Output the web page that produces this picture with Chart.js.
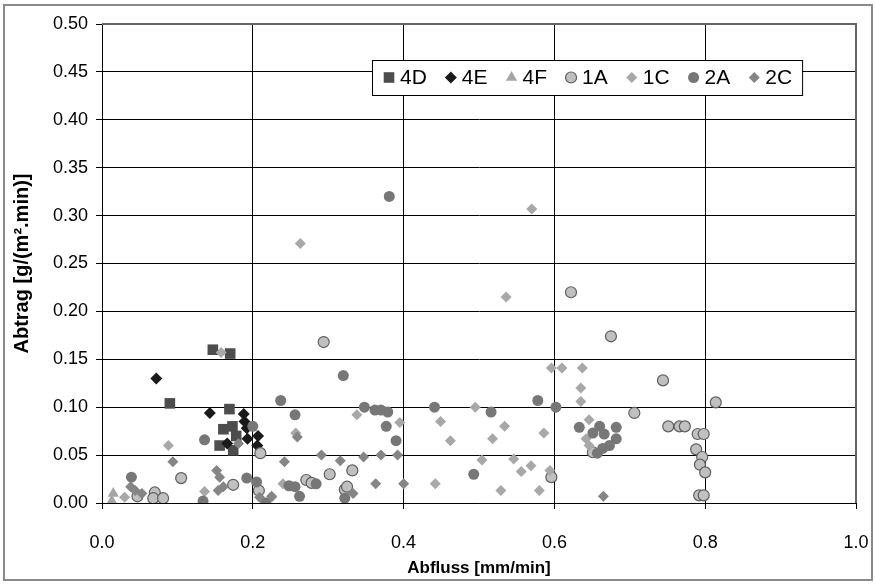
<!DOCTYPE html>
<html>
<head>
<meta charset="utf-8">
<script src="https://cdn.jsdelivr.net/npm/chart.js@4.4.1/dist/chart.umd.min.js"></script>
<style>
  html, body { margin: 0; padding: 0; background: #fff; }
  #wrap { width: 875px; height: 584px; }
</style>
</head>
<body>
<div id="wrap"><canvas id="abtrag" width="875" height="584"></canvas></div>
<script>
const FONT = "'Liberation Sans', Arial, sans-serif";
Chart.defaults.font.family = FONT;
Chart.defaults.color = '#000';

// tick labels
const xTickLabels = ['0.0', '0.2', '0.4', '0.6', '0.8', '1.0'];
const yTickLabels = ['0.00', '0.05', '0.10', '0.15', '0.20', '0.25', '0.30', '0.35', '0.40', '0.45', '0.50'];

// series names (legend order)
const seriesNames = ['4D', '4E', '4F', '1A', '1C', '2A', '2C'];

// [Abfluss, Abtrag] pairs
const pts4D = [[0.147, 0.160], [0.170, 0.156], [0.090, 0.104], [0.169, 0.098], [0.173, 0.080],
  [0.161, 0.077], [0.178, 0.070], [0.156, 0.060], [0.174, 0.055]];
const pts4E = [[0.072, 0.130], [0.143, 0.094], [0.188, 0.093], [0.189, 0.085], [0.192, 0.078],
  [0.207, 0.070], [0.193, 0.067], [0.206, 0.060], [0.166, 0.062]];
const pts4F = [[0.015, 0.010], [0.013, 0.002]];
const pts1A = [[0.210, 0.052], [0.105, 0.026], [0.047, 0.007], [0.070, 0.011], [0.068, 0.005],
  [0.081, 0.005], [0.174, 0.019], [0.208, 0.013], [0.294, 0.168], [0.302, 0.030], [0.332, 0.034],
  [0.271, 0.024], [0.278, 0.021], [0.322, 0.014], [0.325, 0.017], [0.596, 0.027], [0.675, 0.174],
  [0.744, 0.128], [0.814, 0.105], [0.706, 0.094], [0.751, 0.080], [0.766, 0.080], [0.773, 0.080],
  [0.790, 0.072], [0.798, 0.072], [0.788, 0.056], [0.796, 0.048], [0.793, 0.040], [0.800, 0.032],
  [0.792, 0.008], [0.798, 0.008], [0.622, 0.220], [0.651, 0.053]];
const pts1C = [[0.158, 0.157], [0.088, 0.060], [0.030, 0.006], [0.136, 0.012], [0.225, 0.006],
  [0.263, 0.271], [0.257, 0.073], [0.338, 0.092], [0.395, 0.084], [0.240, 0.020], [0.442, 0.020],
  [0.570, 0.307], [0.536, 0.215], [0.596, 0.141], [0.610, 0.141], [0.637, 0.141], [0.635, 0.120],
  [0.635, 0.106], [0.495, 0.100], [0.449, 0.085], [0.534, 0.080], [0.462, 0.065], [0.518, 0.067],
  [0.586, 0.073], [0.646, 0.087], [0.504, 0.045], [0.546, 0.046], [0.569, 0.039], [0.556, 0.033],
  [0.594, 0.034], [0.529, 0.013], [0.580, 0.013], [0.642, 0.067], [0.646, 0.060]];
const pts2A = [[0.200, 0.080], [0.136, 0.066], [0.039, 0.027], [0.134, 0.002], [0.192, 0.026],
  [0.205, 0.022], [0.217, 0.000], [0.381, 0.320], [0.320, 0.133], [0.237, 0.107], [0.256, 0.092],
  [0.348, 0.100], [0.362, 0.097], [0.370, 0.097], [0.379, 0.095], [0.377, 0.080], [0.390, 0.065],
  [0.248, 0.018], [0.256, 0.017], [0.262, 0.007], [0.284, 0.020], [0.322, 0.005], [0.441, 0.100],
  [0.516, 0.095], [0.578, 0.107], [0.602, 0.100], [0.493, 0.030], [0.633, 0.079], [0.660, 0.080],
  [0.682, 0.079], [0.651, 0.073], [0.666, 0.072], [0.682, 0.067], [0.673, 0.060], [0.664, 0.057],
  [0.657, 0.052]];
const pts2C = [[0.181, 0.062], [0.094, 0.043], [0.038, 0.017], [0.044, 0.013], [0.053, 0.010],
  [0.152, 0.034], [0.156, 0.027], [0.154, 0.013], [0.161, 0.017], [0.209, 0.006], [0.259, 0.069],
  [0.242, 0.043], [0.291, 0.050], [0.316, 0.044], [0.347, 0.048], [0.370, 0.050], [0.392, 0.050],
  [0.363, 0.020], [0.400, 0.020], [0.225, 0.007], [0.333, 0.010], [0.665, 0.007]];

const seriesPoints = [pts4D, pts4E, pts4F, pts1A, pts1C, pts2A, pts2C];
const seriesStyle = [
  { pointStyle: 'rect', radius: 7.5, bg: '#4d4d4d', border: '#4d4d4d', bw: 0 },
  { pointStyle: 'rectRot', radius: 6, bg: '#1a1a1a', border: '#1a1a1a', bw: 0 },
  { pointStyle: 'triangle', radius: 6.5, bg: '#a6a6a6', border: '#a6a6a6', bw: 0 },
  { pointStyle: 'circle', radius: 5.5, bg: '#c0c0c0', border: '#5e5e5e', bw: 1.2 },
  { pointStyle: 'rectRot', radius: 5.5, bg: '#a8a8a8', border: '#a8a8a8', bw: 0 },
  { pointStyle: 'circle', radius: 5.5, bg: '#777777', border: '#777777', bw: 0 },
  { pointStyle: 'rectRot', radius: 5.5, bg: '#858585', border: '#858585', bw: 0 }
];

const datasets = seriesNames.map((name, i) => ({
  label: name,
  data: seriesPoints[i].map(p => ({ x: p[0], y: p[1] })),
  pointStyle: seriesStyle[i].pointStyle,
  pointRadius: seriesStyle[i].radius,
  backgroundColor: seriesStyle[i].bg,
  borderColor: seriesStyle[i].border,
  borderWidth: seriesStyle[i].bw,
  order: seriesNames.length - i // later series on top, like the original
}));

// white page + grey outer frame
const frame = {
  id: 'frame',
  beforeDraw(chart) {
    const ctx = chart.ctx;
    ctx.save();
    ctx.fillStyle = '#fff';
    ctx.fillRect(0, 0, chart.width, chart.height);
    ctx.strokeStyle = '#8a8a8a';
    ctx.lineWidth = 2;
    ctx.strokeRect(4, 5, 868, 575);
    ctx.restore();
  },
  afterDraw(chart) {
    const a = chart.chartArea;
    const ctx = chart.ctx;
    ctx.save();
    ctx.strokeStyle = '#666';
    ctx.lineWidth = 2;
    ctx.beginPath();
    ctx.moveTo(a.left, a.top);
    ctx.lineTo(a.right, a.top);
    ctx.lineTo(a.right, a.bottom);
    ctx.stroke();
    ctx.restore();
  }
};

// legend box inside the plot
const legendBox = {
  id: 'legendBox',
  afterDraw(chart) {
    const ctx = chart.ctx;
    ctx.save();
    ctx.font = '21px ' + FONT;
    const metas = chart.data.datasets;
    const widths = metas.map(ds => ctx.measureText(ds.label).width);
    const left = 372, top = 60, h = 35;
    const total = 17 + metas.length * 11 + widths.reduce((s, w) => s + w, 0) + (metas.length - 1) * 24 + 10;
    ctx.fillStyle = '#fff';
    ctx.fillRect(left, top, total, h);
    ctx.strokeStyle = '#000';
    ctx.lineWidth = 1;
    ctx.strokeRect(left + 0.5, top + 0.5, total, h);
    let x = left + 17;
    const cy = top + h / 2;
    metas.forEach((ds, i) => {
      ctx.fillStyle = ds.backgroundColor;
      ctx.strokeStyle = ds.borderColor;
      ctx.lineWidth = ds.borderWidth;
      Chart.helpers.drawPoint(ctx, {
        pointStyle: ds.pointStyle, radius: ds.pointRadius, borderWidth: ds.borderWidth, rotation: 0
      }, x, cy);
      ctx.fillStyle = '#000';
      ctx.textBaseline = 'middle';
      ctx.textAlign = 'left';
      ctx.fillText(ds.label, x + 11, cy + 1);
      x += 11 + widths[i] + 24;
    });
    ctx.restore();
  }
};

new Chart(document.getElementById('abtrag'), {
  type: 'scatter',
  data: { datasets: datasets },
  options: {
    responsive: false,
    animation: false,
    events: [],
    layout: { padding: { left: 0, right: 19, top: 24, bottom: 0 } },
    plugins: { legend: { display: false }, tooltip: { enabled: false } },
    scales: {
      x: {
        type: 'linear',
        min: 0,
        max: 1,
        ticks: {
          stepSize: 0.2,
          padding: 23,
          font: { size: 18 },
          color: '#000',
          maxRotation: 0,
          callback: (v, i) => xTickLabels[i]
        },
        grid: { color: '#000', lineWidth: 1, tickLength: 6 },
        border: { color: '#000', width: 1 },
        title: { display: true, text: 'Abfluss [mm/min]', font: { size: 17, weight: 'bold' }, padding: { top: 0, bottom: 5 } },
        afterFit: s => { s.height = 81; s.paddingLeft = 0; s.paddingRight = 0; }
      },
      y: {
        min: 0,
        max: 0.5,
        ticks: {
          stepSize: 0.05,
          padding: 8,
          font: { size: 18 },
          color: '#000',
          callback: (v, i) => yTickLabels[i]
        },
        grid: { color: '#000', lineWidth: 1, tickLength: 6 },
        border: { color: '#000', width: 1 },
        title: { display: true, text: 'Abtrag [g/(m\u00b2.min)]', font: { size: 20, weight: 'bold' }, padding: { top: 10, bottom: 0 } },
        afterFit: s => { s.width = 102; s.paddingTop = 0; s.paddingBottom = 0; }
      }
    }
  },
  plugins: [frame, legendBox]
});
</script>
</body>
</html>
